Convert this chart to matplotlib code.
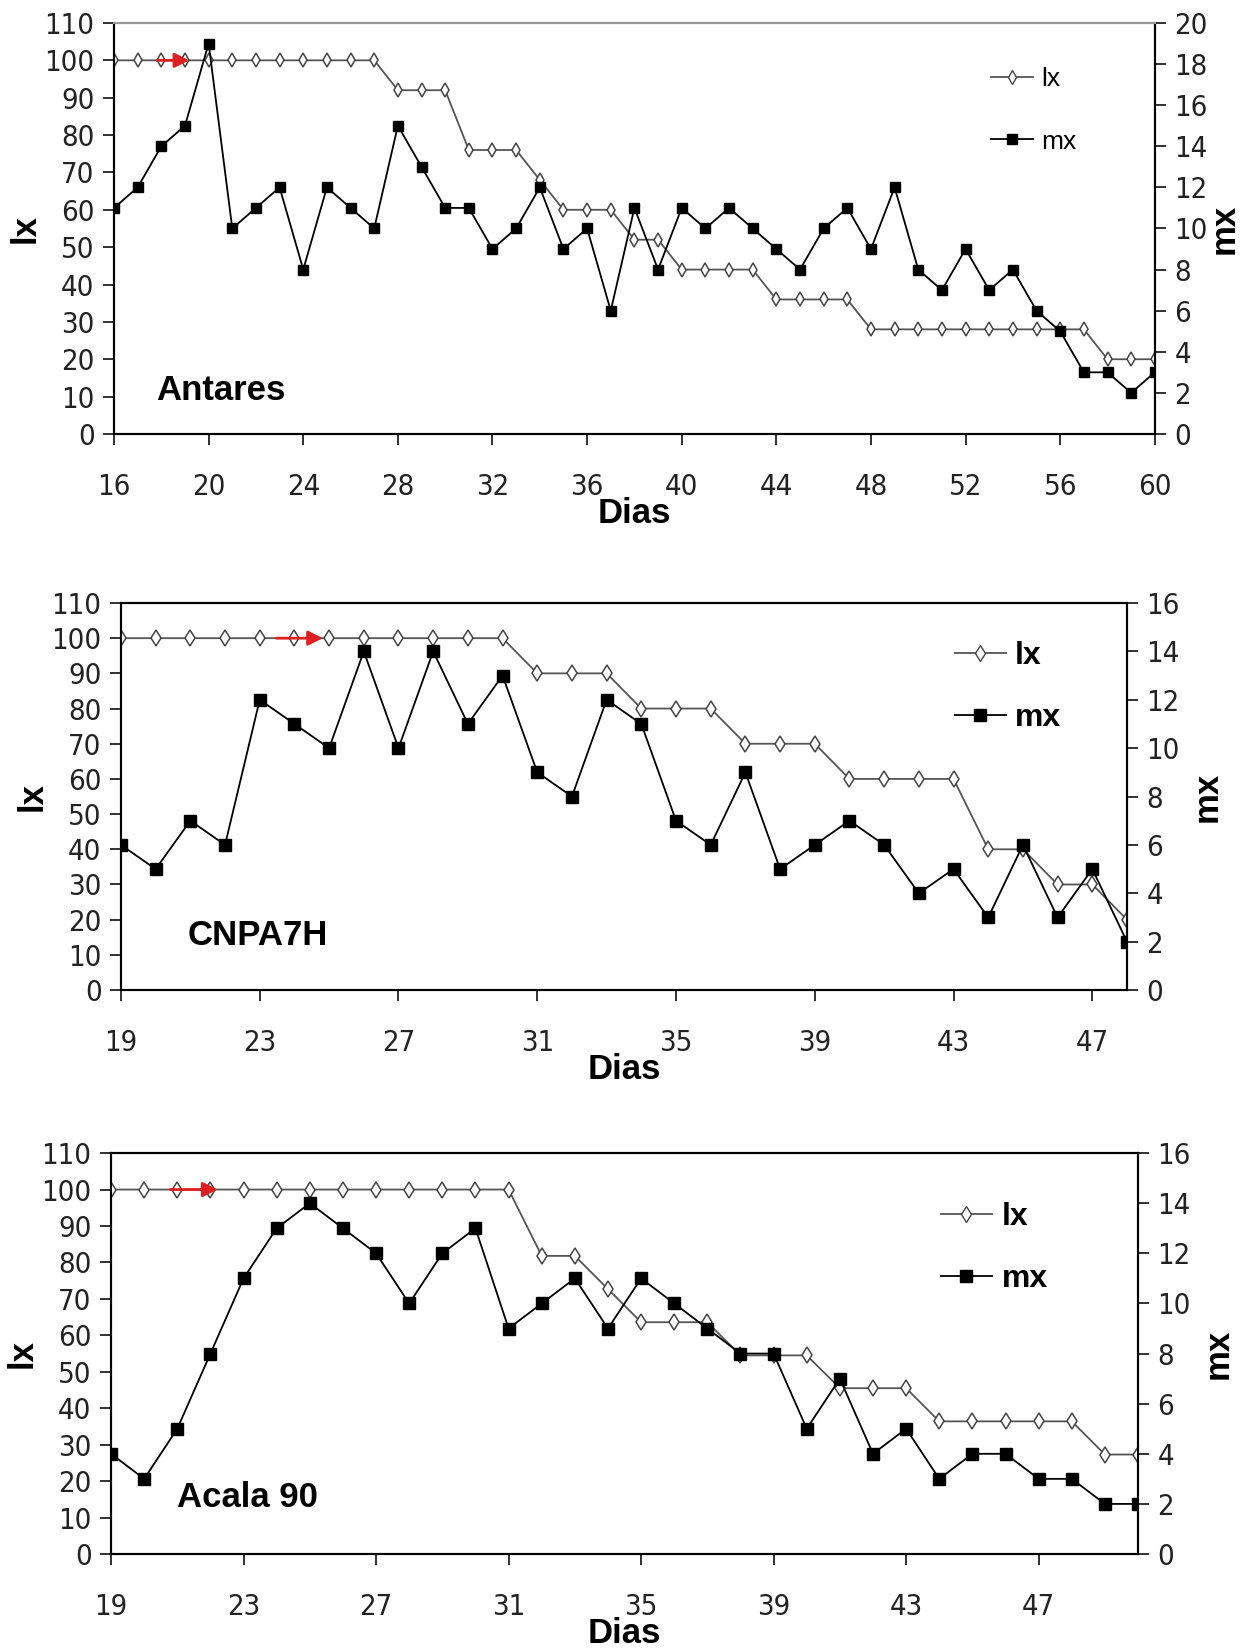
import matplotlib.pyplot as plt
from matplotlib import font_manager
from matplotlib.lines import Line2D

# condensed face for tick numbers if one is installed
names = {f.name for f in font_manager.fontManager.ttflist}
if 'Liberation Sans Narrow' in names:
    plt.rcParams['font.family'] = ['Liberation Sans Narrow', 'DejaVu Sans']
else:
    plt.rcParams['font.family'] = ['DejaVu Sans']
    plt.rcParams['font.stretch'] = 'condensed'

# Antares
days1 = list(range(16, 61))
lx1 = [100, 100, 100, 100, 100, 100, 100, 100, 100, 100, 100, 100,
       92, 92, 92, 76, 76, 76, 68, 60, 60, 60, 52, 52,
       44, 44, 44, 44, 36, 36, 36, 36,
       28, 28, 28, 28, 28, 28, 28, 28, 28, 28, 20, 20, 20]
mx1 = [11, 12, 14, 15, 19, 10, 11, 12, 8, 12, 11, 10, 15, 13, 11,
       11, 9, 10, 12, 9, 10, 6, 11, 8, 11, 10, 11, 10, 9, 8,
       10, 11, 9, 12, 8, 7, 9, 7, 8, 6, 5, 3, 3, 2, 3]
xticks1 = [16, 20, 24, 28, 32, 36, 40, 44, 48, 52, 56, 60]

# CNPA7H
days2 = list(range(19, 49))
lx2 = [100, 100, 100, 100, 100, 100, 100, 100, 100, 100, 100, 100,
       90, 90, 90, 80, 80, 80, 70, 70, 70, 60, 60, 60, 60,
       40, 40, 30, 30, 20]
mx2 = [6, 5, 7, 6, 12, 11, 10, 14, 10, 14, 11, 13, 9, 8, 12,
       11, 7, 6, 9, 5, 6, 7, 6, 4, 5, 3, 6, 3, 5, 2]
xticks2 = [19, 23, 27, 31, 35, 39, 43, 47]

# Acala 90
days3 = list(range(19, 51))
lx3 = [100, 100, 100, 100, 100, 100, 100, 100, 100, 100, 100, 100, 100,
       81.8, 81.8, 72.7, 63.6, 63.6, 63.6, 54.5, 54.5, 54.5,
       45.5, 45.5, 45.5, 36.4, 36.4, 36.4, 36.4, 36.4, 27.3, 27.3]
mx3 = [4, 3, 5, 8, 11, 13, 14, 13, 12, 10, 12, 13, 9, 10, 11, 9,
       11, 10, 9, 8, 8, 5, 7, 4, 5, 3, 4, 4, 3, 3, 2, 2]
xticks3 = [19, 23, 27, 31, 35, 39, 43, 47]

# red arrows (day from, day to) at lx = 100
arrow1 = (17.7, 19.3)
arrow2 = (23.4, 24.9)
arrow3 = (20.7, 22.3)

fig = plt.figure(figsize=(12.42, 16.52), dpi=100)
BOLD = dict(family='Liberation Sans', fontweight='bold', stretch='normal')


def panel(rect, days, lx, mx, mx_top, xticks, name, name_xy, arrow,
          leg_xy, big, top_color, mx_pad):
    ax = fig.add_axes(rect)
    ax2 = ax.twinx()

    ms_sq = 8.5 if big else 6.5
    ms_d = 8 if big else 7
    ax.plot(days, lx, color='#555555', lw=1.3, marker='d', ms=ms_d,
            mfc='white', mec='#444444', mew=1.1, zorder=3)
    ax2.plot(days, mx, color='black', lw=1.3, marker='s', ms=ms_sq,
             mfc='black', mec='black', zorder=2)

    ax.annotate('', xy=(arrow[1], 100), xytext=(arrow[0], 100),
                arrowprops=dict(arrowstyle='-|>', color='#e02020', lw=2,
                                mutation_scale=22), zorder=5)

    ax.set_xlim(days[0], days[-1])
    ax.set_ylim(0, 110)
    ax.set_yticks(range(0, 111, 10))
    ax2.set_ylim(0, mx_top)
    ax2.set_yticks(range(0, mx_top + 1, 2))
    ax.set_xticks(xticks)

    for a in (ax, ax2):
        a.tick_params(direction='out', length=8, width=1.3, labelsize=21,
                      colors='#222222', pad=6)
        for s in a.spines.values():
            s.set_linewidth(1.5)
        a.spines['top'].set_color(top_color)
    ax.tick_params(axis='x', pad=20)

    ax.set_ylabel('lx', fontsize=25, labelpad=2, **BOLD)
    ax2.set_ylabel('mx', fontsize=25, labelpad=mx_pad, **BOLD)
    ax.set_xlabel('Dias', fontsize=25, labelpad=-3, **BOLD)

    ax.text(name_xy[0], name_xy[1], name, transform=ax.transAxes,
            fontsize=25, va='center', ha='left', **BOLD)

    handles = [Line2D([], [], color='#555555', lw=1.3, marker='d', ms=ms_d,
                      mfc='white', mec='#444444'),
               Line2D([], [], color='black', lw=1.3, marker='s', ms=ms_sq)]
    ax2.legend(handles, ['lx', 'mx'], loc='upper left', bbox_to_anchor=leg_xy,
               frameon=False, handlelength=1.6, handletextpad=0.3,
               labelspacing=1.0 if big else 1.45,
               prop={'family': 'Liberation Sans', 'stretch': 'normal',
                     'weight': 'bold' if big else 'normal',
                     'size': 23 if big else 19})


panel([0.0918, 0.7373, 0.838, 0.2488], days1, lx1, mx1, 20, xticks1,
      'Antares', (0.04, 0.107), arrow1, (0.82, 0.95), False, '#999999', 0)
panel([0.0974, 0.4007, 0.810, 0.2343], days2, lx2, mx2, 16, xticks2,
      'CNPA7H', (0.066, 0.142), arrow2, (0.80, 0.975), True, 'black', 8)
panel([0.0894, 0.0593, 0.8269, 0.2427], days3, lx3, mx3, 16, xticks3,
      'Acala 90', (0.064, 0.14), arrow3, (0.78, 0.95), True, 'black', 8)

plt.savefig('out.png', dpi=100)
